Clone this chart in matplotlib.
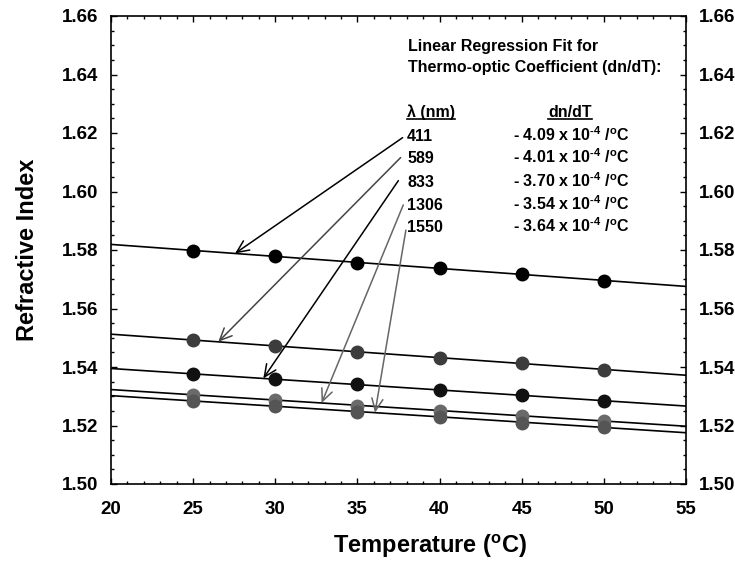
import numpy as np
import matplotlib
matplotlib.use("Agg")
import matplotlib.pyplot as plt
from matplotlib.lines import Line2D
from matplotlib.ticker import MultipleLocator

plt.rcParams['font.family'] = ['Liberation Sans', 'DejaVu Sans']
plt.rcParams['font.weight'] = 'bold'
plt.rcParams['mathtext.fontset'] = 'custom'
plt.rcParams['mathtext.rm'] = 'Liberation Sans:bold'
plt.rcParams['mathtext.it'] = 'Liberation Sans:bold'
plt.rcParams['mathtext.bf'] = 'Liberation Sans:bold'
plt.rcParams['mathtext.default'] = 'rm'

# ---- data ----
temperature = [25, 30, 35, 40, 45, 50]
wavelengths = ['411', '589', '833', '1306', '1550']
n_411 = [1.5798, 1.5779, 1.5757, 1.5737, 1.5718, 1.5695]
n_589 = [1.5492, 1.5472, 1.5452, 1.5432, 1.5413, 1.5391]
n_833 = [1.5376, 1.5358, 1.5341, 1.5321, 1.5304, 1.5284]
n_1306 = [1.5305, 1.5288, 1.5268, 1.5251, 1.5233, 1.5216]
n_1550 = [1.5285, 1.5267, 1.5246, 1.5228, 1.5210, 1.5196]
dndt_labels = ['- 4.09 x 10$^{\\text{-}4}$ /$^{o}$C', '- 4.01 x 10$^{\\text{-}4}$ /$^{o}$C',
               '- 3.70 x 10$^{\\text{-}4}$ /$^{o}$C', '- 3.54 x 10$^{\\text{-}4}$ /$^{o}$C',
               '- 3.64 x 10$^{\\text{-}4}$ /$^{o}$C']
xticks = [20, 25, 30, 35, 40, 45, 50, 55]
yticks = [1.50, 1.52, 1.54, 1.56, 1.58, 1.60, 1.62, 1.64, 1.66]

series = [n_411, n_589, n_833, n_1306, n_1550]
marker_colors = ['#000000', '#3c3c3c', '#111111', '#6a6a6a', '#555555']
arrow_colors = ['#000000', '#444444', '#000000', '#666666', '#666666']
arrow_tip_x = [27.55, 26.53, 29.27, 32.82, 36.07]
arrow_start = [(37.75, 1.6184), (37.63, 1.6116), (37.49, 1.6037),
               (37.79, 1.5954), (37.95, 1.5868)]
label_y = [1.6171, 1.6096, 1.6017, 1.5938, 1.5860]

fig = plt.figure(figsize=(7.35, 5.82), dpi=100)
ax = fig.add_axes([111/735, 1-484/582, 575/735, 468/582])
ax.set_xlim(20, 55)
ax.set_ylim(1.50, 1.66)

xfit = np.array([20, 55])
fits = []
for vals, mc in zip(series, marker_colors):
    p = np.polyfit(temperature, vals, 1)
    fits.append(p)
    ax.plot(xfit, np.polyval(p, xfit), color='black', lw=1.2, zorder=2)
    ax.plot(temperature, vals, 'o', color=mc, ms=9, mec=mc, zorder=3)

for p, tx, st, col in zip(fits, arrow_tip_x, arrow_start, arrow_colors):
    ax.annotate('', xy=(tx, np.polyval(p, tx)), xytext=st,
                arrowprops=dict(arrowstyle='->,head_length=0.55,head_width=0.25',
                                color=col, lw=1.1, mutation_scale=16,
                                shrinkA=0, shrinkB=0), zorder=4)

fs = 11.5
ax.text(38.08, 1.6482, 'Linear Regression Fit for', fontsize=fs, va='baseline', ha='left')
ax.text(38.08, 1.6407, 'Thermo-optic Coefficient (dn/dT):', fontsize=fs, va='baseline', ha='left')
t_lam = ax.text(38.02, 1.6253, 'λ (nm)', fontsize=fs, va='baseline', ha='left')
t_dn = ax.text(47.94, 1.6253, 'dn/dT', fontsize=fs, va='baseline', ha='center')
for wl, dl, yy in zip(wavelengths, dndt_labels, label_y):
    ax.text(38.02, yy, wl, fontsize=fs, va='baseline', ha='left')
    ax.text(44.47, yy, dl, fontsize=fs, va='baseline', ha='left')

ax.set_xticks(xticks)
ax.set_yticks(yticks)
ax.set_xticklabels([str(v) for v in xticks])
ax.set_yticklabels(['%.2f' % v for v in yticks])
ax.xaxis.set_minor_locator(MultipleLocator(1))
ax.yaxis.set_minor_locator(MultipleLocator(0.005))
ax.tick_params(which='both', direction='in', top=True, right=True,
               labelright=True, width=1.0, labelsize=13.5)
ax.tick_params(which='major', length=4.5)
ax.tick_params(which='minor', length=2.5)
ax.tick_params(axis='x', which='major', pad=12)
ax.tick_params(axis='y', which='major', pad=9)
for s in ax.spines.values():
    s.set_linewidth(1.2)

fig.text(430/735, 1-546/582, 'Temperature ($^{o}$C)', fontsize=17,
         ha='center', va='center')
fig.text(28/735, 1-250/582, 'Refractive Index', fontsize=17, rotation=90,
         ha='center', va='center')

# underlines for column headers
fig.canvas.draw()
r = fig.canvas.get_renderer()
for t in (t_lam, t_dn):
    bb = t.get_window_extent(r)
    yline = bb.y0 + 1
    fig.add_artist(Line2D([bb.x0, bb.x1], [yline, yline], transform=None,
                          color='black', lw=1.2))

fig.savefig('out.png', dpi=100)
